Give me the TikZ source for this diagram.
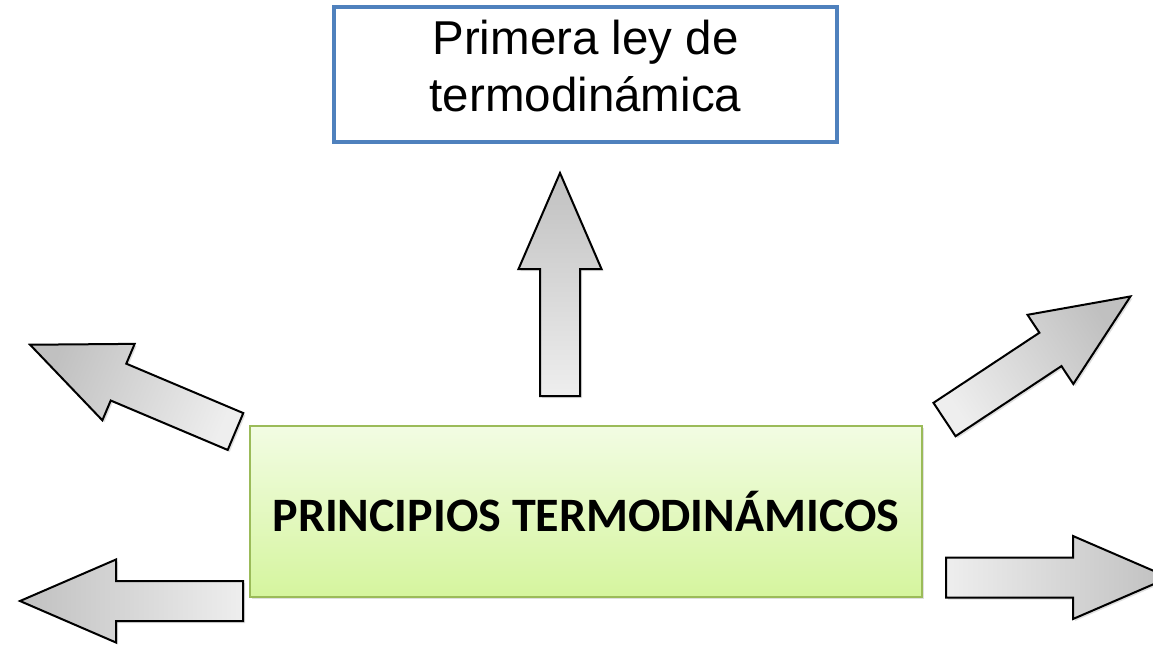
\documentclass[tikz,border=0pt]{standalone}
\usepackage{fontspec}
\setmainfont{Liberation Sans}
\newfontfamily\carlito{Carlito}
\usetikzlibrary{shadows,calc}
\definecolor{boxblue}{HTML}{4F81BD}
\definecolor{boxgreen}{HTML}{9BBB59}
\definecolor{greentop}{HTML}{F2FCE3}
\definecolor{greenbot}{HTML}{D5F59E}
\definecolor{arrowlight}{HTML}{EEEEEE}
\definecolor{arrowdark}{HTML}{C0C0C0}
\tikzset{
  leybox/.style={draw=boxblue, line width=3.5pt, fill=white, minimum width=503pt, minimum height=135pt, inner sep=0pt},
  leytext/.style={inner sep=0pt, align=center, font=\fontsize{47.5}{57}\selectfont},
  principiosbox/.style={draw=boxgreen, line width=2pt, top color=greentop, bottom color=greenbot,
    minimum width=672pt, minimum height=171pt, inner sep=0pt,
    font=\carlito\bfseries\fontsize{48}{56}\selectfont,
    drop shadow={shadow xshift=2pt, shadow yshift=-2pt, opacity=0.25}},
  blockarrowstyle/.style={draw=black, line width=2pt, line join=miter,
    drop shadow={shadow xshift=2pt, shadow yshift=-2pt, opacity=0.25}},
}
% #1 tail midpoint, #2 direction angle, #3 shading angle
\newcommand\blockarrow[3]{%
  \path[blockarrowstyle, top color=arrowdark, bottom color=arrowlight, shading angle=#3]
    ($#1+(#2+90:20)$) -- ($#1+(#2:127)+(#2+90:20)$) -- ($#1+(#2:127)+(#2+90:41.5)$)
    -- ($#1+(#2:223)$) -- ($#1+(#2:127)+(#2-90:41.5)$) -- ($#1+(#2:127)+(#2-90:20)$)
    -- ($#1+(#2-90:20)$) -- cycle;}
\begin{document}
\begin{tikzpicture}[x=1pt,y=1pt]
\useasboundingbox (0,0) rectangle (1153,-646);
\clip (0,0) rectangle (1153,-646);
% arrows
\coordinate (upT) at (560,-396);
\coordinate (llT) at (243,-601);
\coordinate (lrT) at (946,-577.5);
\coordinate (ulT) at (235.5,-431.5);
\coordinate (urT) at (944.5,-419.5);
\blockarrow{(upT)}{90}{0}
\blockarrow{(llT)}{180}{90}
\blockarrow{(lrT)}{0}{-90}
\blockarrow{(ulT)}{157.1}{67.1}
\blockarrow{(urT)}{33.5}{-56.5}
% boxes
\node[leybox] (ley) at (585.5,-74.5) {};
\node[leytext, anchor=north] (leyt) at ($(ley.north)+(0,-14.5)$) {Primera ley de\\termodinámica};
\node[principiosbox] (principios) at (586,-511.5) {PRINCIPIOS TERMODINÁMICOS};
\end{tikzpicture}
\end{document}
